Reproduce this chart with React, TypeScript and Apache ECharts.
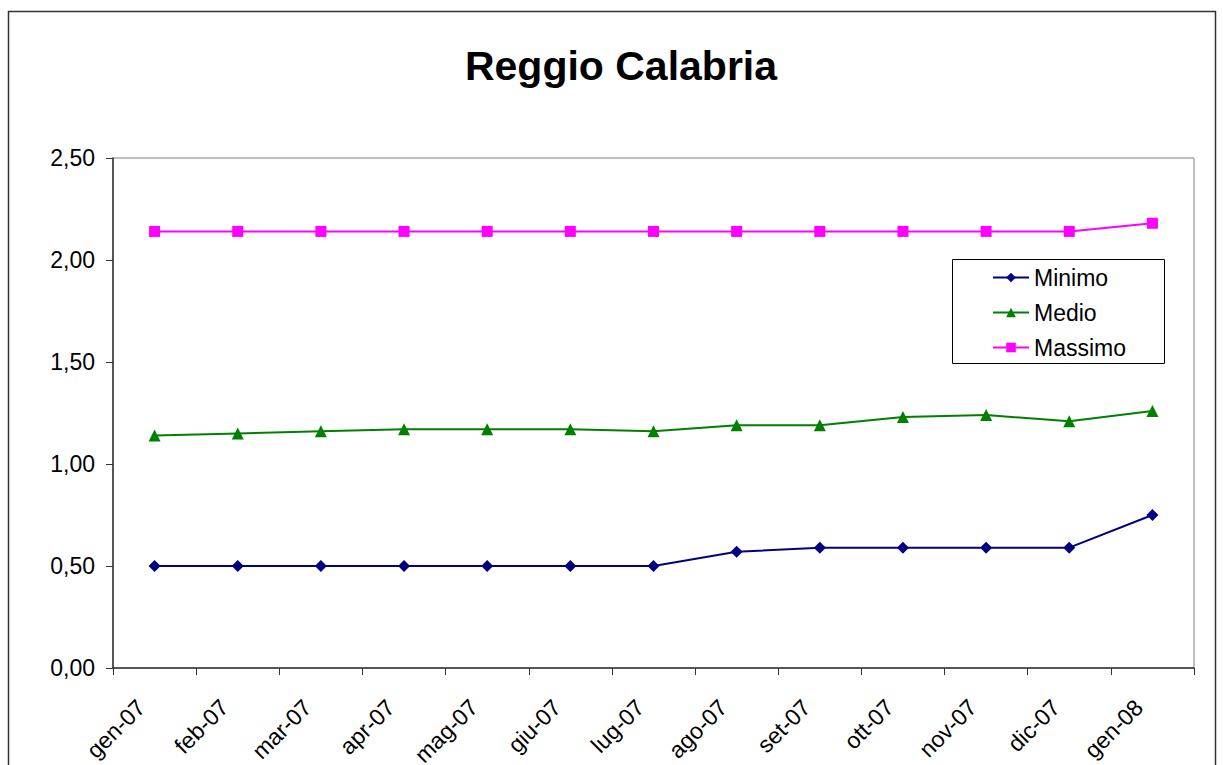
import React, { useEffect, useRef } from "react";
import * as echarts from "echarts";

const categories = ["gen-07", "feb-07", "mar-07", "apr-07", "mag-07", "giu-07", "lug-07", "ago-07", "set-07", "ott-07", "nov-07", "dic-07", "gen-08"];
const minimo = [0.5, 0.5, 0.5, 0.5, 0.5, 0.5, 0.5, 0.57, 0.59, 0.59, 0.59, 0.59, 0.75];
const medio = [1.14, 1.15, 1.16, 1.17, 1.17, 1.17, 1.16, 1.19, 1.19, 1.23, 1.24, 1.21, 1.26];
const massimo = [2.14, 2.14, 2.14, 2.14, 2.14, 2.14, 2.14, 2.14, 2.14, 2.14, 2.14, 2.14, 2.18];

const FONT = "'Liberation Sans', Arial, sans-serif";

export default function App() {
  const ref = useRef<HTMLDivElement>(null);
  useEffect(() => {
    if (!ref.current) return;
    const chart = echarts.init(ref.current, null, { renderer: "svg" });
    chart.setOption({
      animation: false,
      backgroundColor: "#ffffff",
      textStyle: { fontFamily: FONT },
      title: {
        text: "Reggio Calabria",
        left: 616,
        top: 40,
        textAlign: "center",
        textStyle: { fontFamily: FONT, fontWeight: "bold", fontSize: 41, color: "#000" },
      },
      graphic: [
        {
          type: "rect",
          shape: { x: 8.5, y: 11.5, width: 1207, height: 800 },
          style: { fill: "none", stroke: "#333", lineWidth: 1.5 },
          silent: true,
        },
        {
          type: "rect",
          shape: { x: 952.5, y: 259.5, width: 212, height: 104 },
          style: { fill: "none", stroke: "#000", lineWidth: 1 },
          silent: true,
          z: 10,
        },
      ],
      legend: {
        orient: "vertical",
        left: 952,
        top: 259,
        padding: [7, 0, 4, 40],
        itemGap: 12,
        itemWidth: 36,
        itemHeight: 12,
        borderWidth: 0,
        textStyle: { fontFamily: FONT, fontSize: 23, color: "#000" },
        data: ["Minimo", "Medio", "Massimo"],
      },
      grid: {
        left: 113,
        right: 29,
        top: 158,
        bottom: 97,
        show: true,
        borderColor: "#808080",
        borderWidth: 1,
        containLabel: false,
        outerBoundsMode: "none",
      },
      xAxis: {
        type: "category",
        data: categories,
        boundaryGap: true,
        axisLine: { lineStyle: { color: "#333", width: 1.5 } },
        axisTick: { show: true, length: 7, alignWithLabel: false, lineStyle: { color: "#333" } },
        axisLabel: {
          rotate: 45,
          interval: 0,
          margin: 22,
          fontSize: 23,
          fontFamily: FONT,
          color: "#000",
          padding: [0, 19, 0, 0],
        },
        splitLine: { show: false },
      },
      yAxis: {
        type: "value",
        min: 0,
        max: 2.5,
        interval: 0.5,
        axisLine: { show: true, lineStyle: { color: "#333", width: 1.5 } },
        axisTick: { show: true, length: 7, lineStyle: { color: "#333" } },
        axisLabel: {
          margin: 18,
          fontSize: 23,
          fontFamily: FONT,
          color: "#000",
          formatter: (v: number) => v.toFixed(2).replace(".", ","),
        },
        splitLine: { show: false },
      },
      series: [
        {
          name: "Minimo",
          type: "line",
          data: minimo,
          symbol: "diamond",
          symbolSize: 12,
          color: "#000080",
          lineStyle: { color: "#000080", width: 2 },
          itemStyle: { color: "#000080" },
        },
        {
          name: "Medio",
          type: "line",
          data: medio,
          symbol: "triangle",
          symbolSize: 12,
          color: "#008000",
          lineStyle: { color: "#008000", width: 2 },
          itemStyle: { color: "#008000" },
        },
        {
          name: "Massimo",
          type: "line",
          data: massimo,
          symbol: "rect",
          symbolSize: 11,
          color: "#ff00ff",
          lineStyle: { color: "#ff00ff", width: 2 },
          itemStyle: { color: "#ff00ff" },
        },
      ],
    });
    return () => chart.dispose();
  }, []);
  return (
    <div style={{ position: "fixed", left: 0, top: 0, width: 1223, height: 765, overflow: "hidden" }}>
      <div ref={ref} style={{ width: 1223, height: 765 }} />
    </div>
  );
}
